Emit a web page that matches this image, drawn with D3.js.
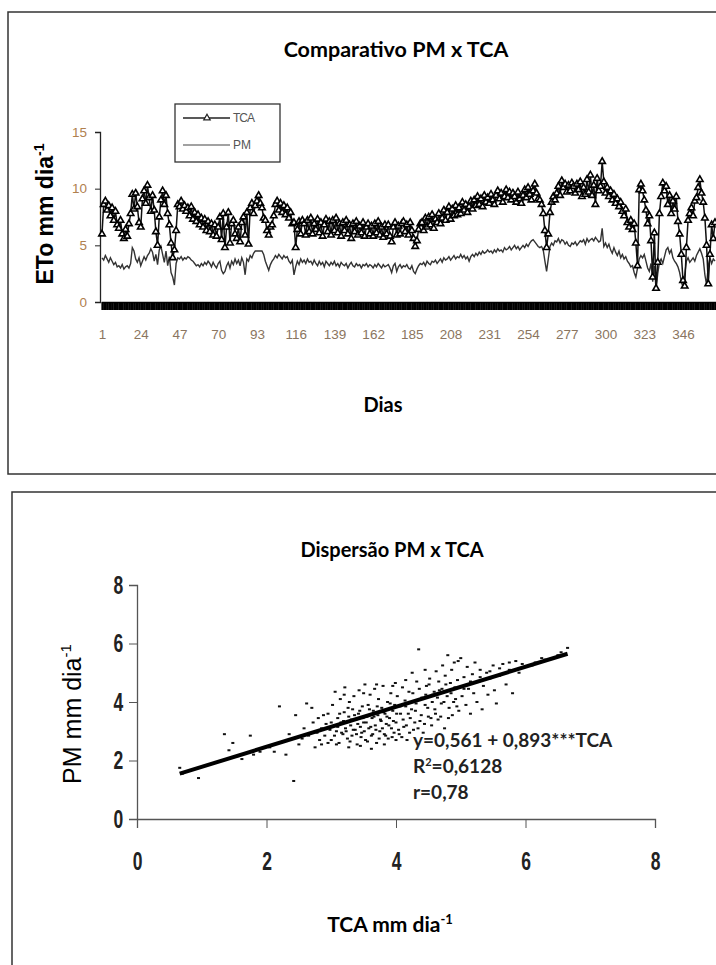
<!DOCTYPE html>
<html><head><meta charset="utf-8">
<script src="https://cdn.jsdelivr.net/npm/d3@7"></script>
<style>html,body{margin:0;padding:0;background:#fff;} svg{display:block}</style>
</head><body>
<script>
// ---------- DATA ----------
const dayLabels = [1,24,47,70,93,116,139,162,185,208,231,254,277,300,323,346];
const topYTicks = [0,5,10,15];
const tcaSeries = [
6.0,8.6,8.9,8.1,8.5,7.6,8.3,7.2,8.0,6.8,
6.5,7.2,6.0,5.6,6.4,5.8,6.9,7.8,9.5,8.2,
9.6,8.4,7.0,6.6,9.1,9.8,8.7,10.3,9.2,8.0,
9.4,8.1,6.2,5.0,7.5,9.0,9.8,8.6,9.4,7.8,
6.8,5.2,3.9,4.6,6.3,8.6,8.4,8.9,8.2,8.5,
8.0,8.3,7.6,8.4,7.3,7.9,7.1,7.7,6.8,7.4,
6.6,7.3,6.3,7.1,6.2,6.9,5.9,6.8,5.8,6.6,
7.5,5.5,7.8,4.8,6.6,7.9,5.2,6.9,7.2,6.0,
5.6,6.6,5.3,7.0,7.5,5.9,7.9,5.1,8.3,8.7,
7.8,8.5,8.9,9.4,8.7,8.3,7.4,7.2,6.3,5.9,
6.6,6.8,7.6,8.6,8.9,8.1,8.7,7.9,8.5,7.7,
8.3,7.4,7.9,6.9,7.0,4.8,6.4,7.1,6.0,7.2,
6.9,5.9,7.2,6.2,7.4,6.0,6.9,6.4,7.3,6.1,
7.0,5.8,6.8,7.3,6.2,7.1,5.9,7.2,6.3,7.4,
6.1,6.9,5.8,7.0,6.3,7.2,6.0,6.8,5.6,6.9,
6.2,7.1,5.9,6.7,6.1,7.0,5.8,6.6,6.9,6.0,
6.7,5.8,6.9,6.1,7.1,5.9,6.6,5.7,6.8,6.0,
6.8,5.8,5.3,6.6,7.0,5.9,6.7,6.0,6.9,7.1,
6.2,6.8,5.9,7.0,6.3,5.6,4.9,5.4,6.4,6.9,
7.0,6.3,7.4,6.6,7.5,6.8,7.7,6.5,7.3,7.0,
7.8,6.9,7.4,8.1,7.2,7.9,8.4,7.3,8.2,7.6,
8.5,7.7,8.3,7.8,8.8,8.1,8.6,7.9,8.4,8.9,
8.2,9.0,8.5,9.3,8.6,9.1,8.4,9.4,8.8,9.2,
8.7,9.5,9.0,8.6,9.4,9.8,9.1,9.6,8.8,9.3,
9.9,9.2,9.7,9.0,9.6,9.3,8.8,9.7,9.1,8.7,
9.4,9.9,9.2,10.1,9.5,9.0,9.8,10.4,9.6,9.1,
9.0,8.6,7.8,6.3,4.8,6.0,7.9,8.8,9.3,9.0,
9.6,10.2,9.4,10.7,10.1,10.4,9.7,10.3,9.8,10.5,
10.2,9.6,10.4,9.9,10.6,9.3,10.1,9.5,10.8,9.7,
11.2,9.4,10.3,8.6,10.9,9.8,10.2,12.4,10.6,9.6,
10.1,9.3,9.8,9.0,9.5,8.7,9.1,8.4,8.8,8.0,
7.6,8.2,7.0,6.6,7.2,6.4,6.9,5.2,3.2,9.9,
10.4,9.8,9.0,8.1,6.9,7.6,5.4,2.2,6.1,1.2,
3.5,7.8,9.3,10.5,9.8,10.2,8.6,9.4,7.8,8.9,
8.2,9.3,7.1,6.0,4.2,1.9,1.4,4.8,7.2,7.8,
8.3,7.6,8.9,9.2,10.1,10.8,9.6,8.8,7.4,5.0,
1.6,4.2,6.8,5.6,7.0];
const pmSeries = [
3.9,3.7,4.1,3.8,3.5,3.9,3.6,3.3,3.5,3.1,
3.2,3.0,3.3,2.9,3.1,3.2,3.0,3.4,4.8,4.5,
3.8,3.5,3.9,3.2,3.6,4.0,3.7,4.1,4.3,4.7,
4.4,3.6,4.2,3.3,4.6,4.9,4.2,3.5,4.5,3.2,
4.0,2.6,2.2,1.5,3.4,3.9,3.8,4.0,3.7,3.9,
3.8,4.0,3.9,3.7,3.6,3.4,3.2,3.3,3.1,3.4,
3.2,3.5,3.3,3.6,3.4,3.1,3.5,3.2,3.0,3.4,
3.6,2.8,2.5,2.7,3.2,3.5,3.0,3.6,3.3,3.8,
3.4,3.7,3.2,3.9,3.5,2.4,3.8,3.6,4.1,3.9,
4.3,4.5,4.5,4.5,4.5,4.5,4.2,3.6,3.2,2.8,
3.3,3.6,3.8,4.1,3.9,4.2,4.0,3.8,4.1,3.9,
4.0,3.6,3.4,3.7,2.4,3.1,3.6,3.3,3.8,3.5,
3.7,3.4,3.8,3.5,3.6,3.3,3.7,3.4,3.2,3.6,
3.3,3.5,3.1,3.6,3.4,3.2,3.5,3.3,3.6,3.2,
3.4,3.1,3.5,3.3,3.2,3.4,3.0,3.3,3.5,3.2,
3.1,3.4,3.2,3.3,3.0,3.3,3.2,3.4,3.1,3.3,
3.2,3.0,3.3,3.1,3.4,3.2,3.0,3.3,3.1,3.2,
3.3,3.0,2.6,3.2,3.4,2.7,3.1,3.3,3.0,3.2,
3.1,3.3,3.0,2.9,3.2,2.7,2.5,2.9,3.2,3.4,
3.3,3.5,3.2,3.6,3.4,3.3,3.6,3.5,3.7,3.4,
3.6,3.8,3.5,3.9,3.7,3.8,4.0,3.7,3.9,4.1,
3.8,4.0,3.9,4.2,3.9,4.1,3.8,4.0,3.6,4.0,
4.2,4.0,4.3,4.1,4.4,4.2,4.5,4.3,4.4,4.6,
4.4,4.5,4.3,4.6,4.4,4.7,4.5,4.6,4.4,4.8,
4.6,4.7,4.9,4.6,4.8,5.0,4.7,4.9,4.6,4.8,
5.0,4.8,5.1,4.9,5.2,5.4,5.5,5.3,5.1,4.9,
4.8,4.9,4.6,3.6,2.7,3.8,4.9,5.2,5.0,5.4,
5.3,5.6,5.2,5.5,5.4,5.1,5.3,5.0,4.9,5.2,
5.1,5.3,5.0,5.2,5.4,5.3,5.5,5.1,5.6,5.3,
5.5,5.6,5.4,5.7,5.5,5.3,5.4,6.5,4.9,5.2,
4.8,5.1,4.6,4.3,4.8,4.4,4.1,4.5,3.9,4.2,
3.8,4.0,3.6,3.4,3.1,3.2,2.6,2.2,3.0,3.8,
4.1,3.9,4.2,3.6,3.0,2.7,3.4,1.8,3.2,1.1,
2.5,3.5,3.8,3.4,4.0,4.6,4.8,4.3,4.6,3.9,
3.6,3.4,3.1,2.6,1.8,1.3,2.4,3.6,3.9,3.5,
3.7,3.9,3.6,4.1,4.4,4.7,4.3,3.8,2.4,1.5,
3.2,3.9,3.4,3.8,3.6];

const scatterTCA = [
0.66,0.70,0.95,1.10,1.35,1.42,1.48,1.55,1.62,1.75,1.80,1.90,
2.05,2.12,2.20,2.22,2.30,2.35,2.42,2.45,2.50,2.55,2.58,2.62,2.65,2.70,2.72,2.75,2.78,2.80,2.82,2.85,2.88,2.90,2.92,2.95,2.98,
3.00,3.02,3.05,3.06,3.08,3.10,3.12,3.14,3.15,3.18,3.20,3.21,3.22,3.25,3.27,3.28,3.30,3.32,3.33,3.35,3.37,3.38,3.40,3.42,3.43,3.45,3.47,3.48,3.50,3.52,3.53,3.55,3.57,3.58,3.60,3.62,3.63,3.65,3.67,3.68,3.70,3.72,3.73,3.75,3.77,3.78,3.80,3.82,3.83,3.85,3.87,3.88,3.90,3.92,3.93,3.95,3.97,3.98,3.99,
4.00,4.02,4.05,4.07,4.10,4.12,4.15,4.17,4.20,4.22,4.25,4.27,4.30,4.32,4.35,4.37,4.40,4.42,4.45,4.47,4.50,4.52,4.55,4.57,4.60,4.62,4.65,4.67,4.70,4.72,4.75,4.77,4.80,4.82,4.85,4.87,4.90,4.92,4.95,4.97,5.00,
5.02,5.05,5.08,5.10,5.12,5.15,5.18,5.20,5.22,5.25,5.28,5.30,5.33,5.35,5.40,5.42,5.45,5.50,5.52,5.55,5.60,5.65,5.70,5.75,5.80,5.85,5.90,6.00,6.15,6.30,6.50,6.65,
3.05,3.10,3.13,3.16,3.19,3.23,3.26,3.29,3.31,3.34,3.36,3.39,3.41,3.44,3.46,3.49,3.51,3.54,3.56,3.59,3.61,3.64,3.66,3.69,3.71,3.74,3.76,3.79,3.81,3.84,3.86,3.89,3.91,3.94,3.96,
4.01,4.04,4.06,4.09,4.11,4.14,4.16,4.19,4.21,4.24,4.26,4.29,4.31,4.34,4.36,4.39,4.41,4.44,4.46,4.49,4.51,4.54,4.56,4.59,4.61,4.64,4.66,4.69,4.71,4.74,4.76,4.79,4.81,4.84,4.86,4.89,4.91,4.94,4.96,
2.95,3.00,2.85,3.08,3.27,3.45,3.62,3.82,4.00,3.20,3.50,3.70,3.95,4.15,4.25,4.45,5.05,5.15,5.30,5.45,5.60,5.75,5.95,6.10,6.25,6.40,6.55];
const scatterPM = [
1.75,1.55,1.40,1.85,2.90,2.35,2.60,2.15,2.05,2.85,2.20,2.30,
2.45,2.30,3.85,2.60,2.20,2.90,1.30,3.55,2.55,2.75,3.10,3.95,2.85,3.80,3.30,2.45,2.95,3.45,2.70,3.10,3.55,2.85,3.25,3.60,3.05,
2.70,3.90,3.20,4.35,3.00,3.45,2.60,4.10,3.30,2.90,3.65,4.50,3.10,2.75,3.50,4.00,3.20,2.85,3.75,4.20,3.05,3.40,2.55,3.60,4.40,3.15,2.95,3.85,3.30,4.60,2.70,3.50,3.90,3.10,4.25,2.85,3.45,3.70,4.45,3.20,2.60,3.55,4.10,3.00,3.35,3.80,4.55,2.90,3.60,3.25,4.00,2.75,3.45,4.30,3.10,3.70,2.95,3.90,4.65,
3.30,4.20,2.90,3.60,4.50,3.15,3.85,2.70,4.35,3.45,4.00,3.05,3.70,4.70,5.80,3.35,4.15,2.95,3.90,4.55,3.50,4.80,3.20,4.25,3.75,5.05,3.40,4.40,3.95,5.25,3.10,4.60,5.60,3.80,4.30,3.55,5.35,4.10,4.75,3.70,5.50,
4.20,4.85,3.90,5.20,4.45,3.60,4.95,4.30,5.35,4.00,4.70,5.10,3.75,4.55,5.00,4.25,4.80,5.25,4.40,3.95,4.90,5.30,4.60,5.10,4.30,5.40,5.00,5.20,5.35,5.45,5.60,5.85,
2.85,3.15,3.60,2.95,3.35,3.00,3.80,2.65,3.40,3.05,3.55,2.90,3.25,3.70,2.80,3.45,3.00,3.30,2.65,3.75,3.15,2.90,3.50,3.05,3.85,2.75,3.40,3.10,3.65,2.85,3.50,3.20,3.95,2.80,3.35,
3.60,3.05,3.85,2.80,3.40,4.05,3.20,3.60,2.95,3.75,4.30,3.30,3.95,3.10,4.45,3.55,4.10,3.25,4.25,3.80,4.60,3.45,4.00,4.35,3.60,4.15,4.70,3.50,4.45,4.00,4.90,4.20,3.45,4.65,5.10,4.00,4.50,3.85,5.40,
2.60,3.30,2.55,2.55,2.45,2.50,2.40,2.55,2.70,4.25,4.30,4.60,4.55,4.75,5.00,5.10,4.45,4.70,4.85,5.05,5.15,5.35,5.30,5.25,5.50,5.50,5.70];
const regressionTCA = [0.66, 6.65];
const regressionPM = [1.55, 5.65];
const bottomTicks = [0,2,4,6,8];

// ---------- SVG ----------
const W = 716, H = 965;
const svg = d3.select("body").append("svg").attr("width", W).attr("height", H);

svg.append("rect").attr("x",8).attr("y",12).attr("width",740).attr("height",462)
  .attr("fill","none").attr("stroke","#333").attr("stroke-width",1.5);
svg.append("rect").attr("x",12).attr("y",492).attr("width",740).attr("height",520)
  .attr("fill","none").attr("stroke","#333").attr("stroke-width",1.5);

// ===== TOP CHART =====
const days = d3.range(1, tcaSeries.length + 1);
const x1 = d3.scaleLinear().domain([1,365]).range([102,715]);
const y1 = d3.scaleLinear().domain([0,15]).range([302,132]);

svg.append("text").attr("x",396).attr("y",57).attr("text-anchor","middle")
  .style("font-family","Lato, 'Open Sans', sans-serif").style("font-weight","bold").style("font-size","21.5px")
  .text("Comparativo PM x TCA");

const gy1 = svg.append("g").attr("transform","translate(100,0)")
  .call(d3.axisLeft(y1).tickValues(topYTicks).tickSize(5).tickPadding(8).tickFormat(d3.format("d")));
gy1.select(".domain").attr("stroke","#222").attr("stroke-width",1.3);
gy1.selectAll(".tick line").attr("stroke","#222");
gy1.selectAll("text").style("font-family","'Liberation Sans', Arial, sans-serif").style("font-size","13.5px").attr("fill","#b0804e");

const gx1 = svg.append("g").attr("transform","translate(0,302)")
  .call(d3.axisBottom(x1).tickValues(days).tickSize(8).tickFormat(""));
gx1.select(".domain").attr("stroke","#111").attr("stroke-width",1.5);
gx1.selectAll(".tick line").attr("stroke","#000").attr("stroke-width",2);
const gx1l = svg.append("g").attr("transform","translate(0,302)")
  .call(d3.axisBottom(x1).tickValues(dayLabels).tickSize(0).tickPadding(27).tickFormat(d3.format("d")));
gx1l.select(".domain").remove();
gx1l.selectAll("text").style("font-family","'Liberation Sans', Arial, sans-serif").style("font-size","13.5px").attr("fill","#8a7560");

svg.append("text").attr("transform","translate(53,214) rotate(-90)").attr("text-anchor","middle")
  .style("font-family","'Liberation Sans', Arial, sans-serif").style("font-weight","bold").style("font-size","23px")
  .html('ETo mm dia<tspan dy="-9" font-size="14px">-1</tspan>');
svg.append("text").attr("x",383).attr("y",412).attr("text-anchor","middle")
  .style("font-family","Lato, 'Open Sans', sans-serif").style("font-weight","bold").style("font-size","20px")
  .text("Dias");

const line1 = (arr) => d3.line().x((d,i)=>x1(days[i])).y(d=>y1(d))(arr);
svg.append("path").attr("d", line1(pmSeries)).attr("fill","none").attr("stroke","#333").attr("stroke-width",1.4);
svg.append("path").attr("d", line1(tcaSeries)).attr("fill","none").attr("stroke","#111").attr("stroke-width",1.5);
const tri = d3.symbol().type(d3.symbolTriangle).size(18);
svg.append("g").selectAll("path").data(tcaSeries).join("path")
  .attr("transform",(d,i)=>`translate(${x1(days[i])},${y1(d)})`)
  .attr("d", tri()).attr("fill","#fff").attr("stroke","#000").attr("stroke-width",1.6);

// legend
const lg = svg.append("g");
lg.append("rect").attr("x",175).attr("y",104).attr("width",105).attr("height",58)
  .attr("fill","#fff").attr("stroke","#333").attr("stroke-width",1.3);
lg.append("line").attr("x1",183).attr("x2",230).attr("y1",118).attr("y2",118).attr("stroke","#222").attr("stroke-width",1.3);
lg.append("path").attr("transform","translate(207,118)").attr("d",tri()).attr("fill","#fff").attr("stroke","#222").attr("stroke-width",1.2);
lg.append("text").attr("x",233).attr("y",122).text("TCA")
  .style("font-family","'Liberation Sans', sans-serif").style("font-size","12px").attr("fill","#555").attr("textLength",22);
lg.append("line").attr("x1",183).attr("x2",230).attr("y1",145).attr("y2",145).attr("stroke","#444").attr("stroke-width",1.2);
lg.append("text").attr("x",233).attr("y",149).text("PM")
  .style("font-family","'Liberation Sans', sans-serif").style("font-size","12px").attr("fill","#555").attr("textLength",18);

// ===== BOTTOM CHART =====
const x2 = d3.scaleLinear().domain([0,8]).range([137,655]);
const y2 = d3.scaleLinear().domain([0,8]).range([819,585]);

svg.append("text").attr("x",392).attr("y",557).attr("text-anchor","middle")
  .style("font-family","Lato, 'Open Sans', sans-serif").style("font-weight","bold").style("font-size","20px")
  .text("Dispersão PM x TCA");

const tickFont = (sel) => sel.style("font-family","'Liberation Sans', Arial, sans-serif")
  .style("font-size","25px").style("font-weight","bold").attr("fill","#222");

const gy2 = svg.append("g").attr("transform","translate(137,0)")
  .call(d3.axisLeft(y2).tickValues(bottomTicks).tickSize(8).tickPadding(11.5).tickFormat(d3.format("d")));
gy2.select(".domain").attr("stroke","#555").attr("stroke-width",1.3);
gy2.selectAll(".tick line").attr("stroke","#555");
gy2.selectAll("text").call(tickFont).attr("transform","scale(0.7,1)");

const gx2 = svg.append("g").attr("transform","translate(0,819)")
  .call(d3.axisBottom(x2).tickValues(bottomTicks).tickSize(9).tickPadding(24).tickFormat(d3.format("d")));
gx2.select(".domain").attr("stroke","#555").attr("stroke-width",1.3);
gx2.selectAll(".tick line").attr("stroke","#555");
gx2.selectAll("text").call(tickFont).attr("transform","scale(0.7,1)");

svg.append("text").attr("transform","translate(81,714) rotate(-90)").attr("text-anchor","middle")
  .style("font-family","'Liberation Sans', Arial, sans-serif").style("font-size","25px")
  .html('PM mm dia<tspan dy="-10" font-size="15px">-1</tspan>');
svg.append("text").attr("x",390).attr("y",932).attr("text-anchor","middle")
  .style("font-family","Lato, 'Open Sans', sans-serif").style("font-weight","bold").style("font-size","21px")
  .html('TCA mm dia<tspan dy="-8" font-size="13px">-1</tspan>');

svg.append("g").selectAll("rect").data(scatterTCA).join("rect")
  .attr("x",(d)=>x2(d)-1.5).attr("y",(d,i)=>y2(scatterPM[i])-1)
  .attr("width",3).attr("height",2).attr("fill","#111");

svg.append("line")
  .attr("x1",x2(regressionTCA[0])).attr("y1",y2(regressionPM[0]))
  .attr("x2",x2(regressionTCA[1])).attr("y2",y2(regressionPM[1]))
  .attr("stroke","#000").attr("stroke-width",4);

const eq = svg.append("g").style("font-family","Lato, 'Open Sans', sans-serif").style("font-weight","bold").style("font-size","19px").attr("fill","#222");
eq.append("text").attr("x",413).attr("y",747).text("y=0,561 + 0,893***TCA");
eq.append("text").attr("x",413).attr("y",773).html('R<tspan dy="-7" font-size="11px">2</tspan><tspan dy="7">=0,6128</tspan>');
eq.append("text").attr("x",413).attr("y",799).text("r=0,78");
</script>
</body></html>
